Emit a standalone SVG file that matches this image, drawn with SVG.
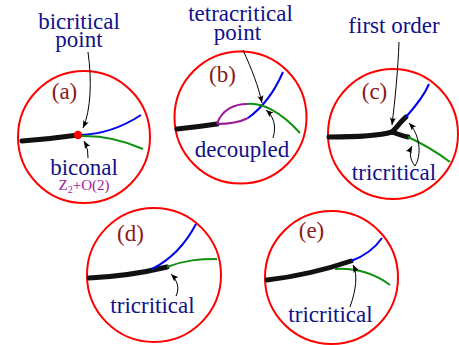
<svg xmlns="http://www.w3.org/2000/svg" width="459" height="345" viewBox="0 0 459 345">
<defs>
<marker id="ah" viewBox="-8 -4 9 8" refX="0" refY="0" markerWidth="9" markerHeight="8" markerUnits="userSpaceOnUse" orient="auto">
<path d="M0,0 L-7.5,-3 Q-5,0 -7.5,3 Z" fill="#000"/>
</marker>
</defs>
<style>
.ring{fill:#fff;stroke:#f00;stroke-width:2}
.thick{fill:none;stroke:#111;stroke-width:5;stroke-linecap:round}
.blue{fill:none;stroke:#0000ee;stroke-width:2}
.green{fill:none;stroke:#109010;stroke-width:2}
.purple{fill:none;stroke:#9a1a9a;stroke-width:2}
.arr{fill:none;stroke:#000;stroke-width:1;marker-end:url(#ah)}
.t{font-family:'Liberation Serif','DejaVu Serif',serif;font-size:23px;fill:#11118a;text-anchor:middle}
.lab{font-family:'Liberation Serif','DejaVu Serif',serif;font-size:23px;fill:#8b1a1a;text-anchor:middle}
.z{font-family:'Liberation Serif','DejaVu Serif',serif;font-size:15px;fill:#a020a0;text-anchor:middle}
</style>
<rect width="459" height="345" fill="#fff"/>
<g id="panel-a">
<circle class="ring" cx="84" cy="137" r="66"/>
<text class="lab" x="64.5" y="99">(a)</text>
<path class="thick" d="M22,141 Q50,139 78,135"/>
<path class="blue" d="M80,135 Q112,134 141,115"/>
<path class="green" d="M80,136 Q112,135 143,149"/>
<circle cx="78" cy="135" r="4.2" fill="#f00"/>
<text class="t" x="79" y="29">bicritical</text>
<text class="t" x="79" y="47">point</text>
<text class="t" x="84" y="175">biconal</text>
<text class="z" x="84" y="190">Z<tspan font-size="10" dy="3">2</tspan><tspan dy="-3">+O(2)</tspan></text>
</g>
<g id="panel-b">
<circle class="ring" cx="240.5" cy="117.5" r="66"/>
<text class="lab" x="222.5" y="82">(b)</text>
<path class="thick" d="M177,129 Q197,127 217,124"/>
<path class="purple" d="M217,124 C222,109 235,104 247,104"/>
<path class="purple" d="M217,124 C230,124 240,122 248,118"/>
<path class="blue" d="M248,118 C262,108 273,95 283,72"/>
<path class="green" d="M247,104 C262,102 281,112 300,133"/>
<text class="t" x="240.5" y="21">tetracritical</text>
<text class="t" x="237.5" y="40">point</text>
<text class="t" x="242" y="157">decoupled</text>
</g>
<g id="panel-c">
<circle class="ring" cx="393" cy="134" r="65"/>
<text class="lab" x="374.5" y="99">(c)</text>
<path class="thick" d="M329,137 C355,137 378,136 392,132"/>
<path class="thick" d="M392,132 C398,126 401,121 406,117"/>
<path class="thick" d="M392,132 C398,134 402,136 408,137"/>
<path class="blue" d="M406,117 C414,108 424,96 429,84"/>
<path class="green" d="M408,137 Q430,147 450,162"/>
<text class="t" x="394" y="33">first order</text>
<text class="t" x="394" y="180">tricritical</text>
</g>
<g id="panel-d">
<circle class="ring" cx="154" cy="275" r="67"/>
<text class="lab" x="130.5" y="241">(d)</text>
<path class="thick" d="M89,278 Q130,276 167,267"/>
<path class="blue" d="M152,269 C170,260 185,245 196,224"/>
<path class="green" d="M167,267 C185,260 200,259 217,259"/>
<text class="t" x="152.5" y="313">tricritical</text>
</g>
<g id="panel-e">
<circle class="ring" cx="331.5" cy="277.5" r="66.5"/>
<text class="lab" x="311.5" y="238">(e)</text>
<path class="thick" d="M267,280 Q310,275 351,261"/>
<path class="blue" d="M351,261 C365,256 375,248 382,238"/>
<path class="green" d="M335,269 C355,268 375,274 390,285"/>
<text class="t" x="330.5" y="322">tricritical</text>
</g>
<g id="connectors">
<path class="arr" d="M88,52 C92,80 91,110 83,128"/>
<path class="arr" d="M88,158 Q89,150 84,141"/>
<path class="arr" d="M243,50 C252,70 258,85 262,103"/>
<path class="arr" d="M273,138 C277,125 273,116 266,110"/>
<path class="arr" d="M399,42 C398,70 395,100 392,125"/>
<path class="arr" d="M415,166 C422,155 420,135 409,123"/>
<path class="arr" d="M415,166 C410,160 409,152 412,146"/>
<path class="arr" d="M176,296 C180,288 177,280 171,274"/>
<path class="arr" d="M350,307 C356,290 358,275 353,265"/>
</g>
</svg>
